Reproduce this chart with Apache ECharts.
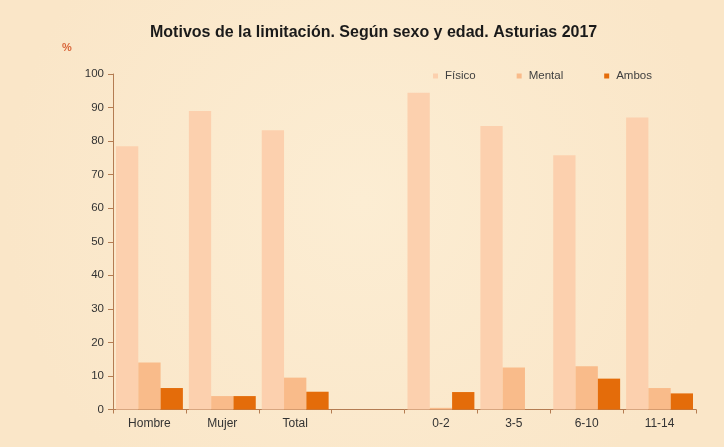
<!DOCTYPE html>
<html>
<head>
<meta charset="utf-8">
<script src="https://cdn.jsdelivr.net/npm/echarts@6/dist/echarts.min.js"></script>
<style>
html,body{margin:0;padding:0;}
#c{width:724px;height:447px;}
</style>
</head>
<body>
<div id="c"></div>
<script>
const categories = ['Hombre', 'Mujer', 'Total', '', '0-2', '3-5', '6-10', '11-14'];
const fisico = [78.5, 89.0, 83.2, null, 94.4, 84.5, 75.8, 87.0];
const mental = [14.0, 4.0, 9.5, null, 0.5, 12.5, 12.9, 6.4];
const ambos = [6.4, 4.0, 5.3, null, 5.2, 0, 9.2, 4.8];
const yTicks = {min: 0, max: 100, interval: 10};

const chart = echarts.init(document.getElementById('c'));
const axisColor = '#B47C52';
const textColor = '#333333';
const ff = 'Liberation Sans, Arial, sans-serif';
chart.setOption({
  backgroundColor: new echarts.graphic.RadialGradient(0.5, 0.45, 0.8, [
    {offset: 0, color: '#FCEDD3'},
    {offset: 1, color: '#FAE6C8'}
  ]),
  animation: false,
  textStyle: {fontFamily: ff},
  title: {
    text: 'Motivos de la limitación. Según sexo y edad. Asturias 2017',
    left: 145,
    top: 20,
    textStyle: {fontSize: 16, fontWeight: 'bold', color: '#1a1a1a', fontFamily: ff}
  },
  legend: {
    left: 428,
    top: 65,
    itemWidth: 5,
    itemHeight: 5,
    itemGap: 41,
    icon: 'rect',
    textStyle: {fontSize: 11.5, color: '#404040', padding: [0, 0, 0, 2], fontFamily: ff},
    data: ['Físico', 'Mental', 'Ambos']
  },
  graphic: [{
    type: 'text',
    left: 62,
    top: 42,
    style: {text: '%', fill: '#D9663A', fontSize: 11, fontFamily: ff, fontWeight: 'bold'}
  }],
  grid: {left: 113, right: 28, top: 74, bottom: 37.5, containLabel: false},
  xAxis: {
    type: 'category',
    data: categories,
    axisLine: {lineStyle: {color: axisColor, width: 1}},
    axisTick: {show: true, alignWithLabel: false, length: 4, lineStyle: {color: axisColor}},
    axisLabel: {color: textColor, fontSize: 12, margin: 8, fontFamily: ff}
  },
  yAxis: {
    type: 'value',
    min: yTicks.min,
    max: yTicks.max,
    interval: yTicks.interval,
    splitLine: {show: false},
    axisLine: {show: true, lineStyle: {color: axisColor, width: 1}},
    axisTick: {show: true, length: 5, lineStyle: {color: axisColor}},
    axisLabel: {color: textColor, fontSize: 11.5, margin: 9, fontFamily: ff}
  },
  series: [
    {name: 'Físico', type: 'bar', data: fisico, barWidth: 22.3, barGap: '0%', itemStyle: {color: '#FCD0AE'}},
    {name: 'Mental', type: 'bar', data: mental, barWidth: 22.3, barGap: '0%', itemStyle: {color: '#F9BB8A'}},
    {name: 'Ambos', type: 'bar', data: ambos, barWidth: 22.3, barGap: '0%', itemStyle: {color: '#E46C0A'}}
  ]
});
</script>
</body>
</html>
